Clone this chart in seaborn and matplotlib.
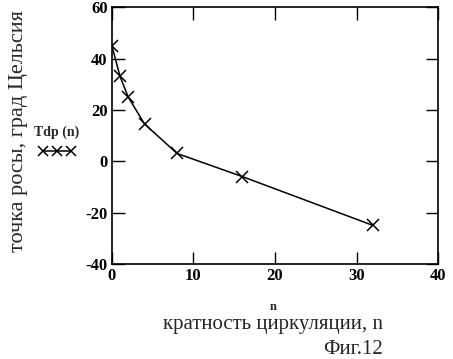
import pandas as pd
import numpy as np
import matplotlib.pyplot as plt
import seaborn as sns
from matplotlib.lines import Line2D

# кратность циркуляции и точка росы
n_vals = [0, 1, 2, 4, 8, 16, 32]
tdp_vals = [45, 33, 25, 14.5, 3, -6, -25]

xticks = [0, 10, 20, 30, 40]
yticks = [-40, -20, 0, 20, 40, 60]

sns.set_style('ticks')
plt.rcParams['font.family'] = ['Liberation Serif', 'DejaVu Serif']
plt.rcParams['axes.unicode_minus'] = False

df = pd.DataFrame({'n': n_vals, 'Tdp': tdp_vals})

fig = plt.figure(figsize=(4.53, 3.59), dpi=100)
ax = fig.add_axes([0.247, 0.265, 0.72, 0.715])

sns.lineplot(data=df, x='n', y='Tdp', ax=ax, color='black', lw=1.1,
             marker='x', markersize=8, markeredgewidth=1.1, markeredgecolor='black',
             label='_nolegend_')

ax.set_xlim(0, 40)
ax.set_ylim(-40, 60)
ax.set_xticks(xticks)
ax.set_yticks(yticks)
ax.tick_params(direction='in', length=9, width=1.0, top=True, right=True,
               labelsize=12, pad=3, colors='black')
for lab in ax.get_xticklabels() + ax.get_yticklabels():
    lab.set_fontweight('bold')
for sp in ax.spines.values():
    sp.set_linewidth(1.2)
    sp.set_color('black')

ax.set_xlabel('')
ax.set_ylabel('')

fig.text(0.603, 0.145, 'n', ha='center', va='center', fontsize=9, fontweight='bold')
fig.text(0.603, 0.095, 'кратность циркуляции, n', ha='center', va='center', fontsize=15)
fig.text(0.78, 0.027, 'Фиг.12', ha='center', va='center', fontsize=15)
fig.text(0.04, 0.635, 'точка росы, град Цельсия', ha='center', va='center',
         rotation=90, fontsize=16)

h = Line2D([], [], color='black', lw=1.1, marker='x', markersize=7, markeredgewidth=1.1)
leg = fig.legend([h], [''], title='Tdp (n)', loc='center', bbox_to_anchor=(0.125, 0.603),
                 frameon=False, numpoints=3, handlelength=2.6, handletextpad=0,
                 borderpad=0, title_fontsize=10)
leg.get_title().set_fontweight('bold')

fig.savefig('out.png', dpi=100)
